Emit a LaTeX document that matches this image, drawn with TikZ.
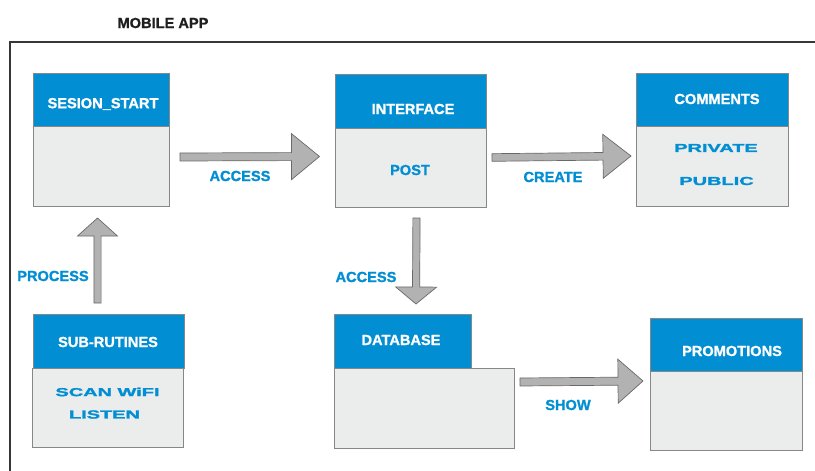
\documentclass[tikz,border=0pt]{standalone}
\usepackage{fontspec}
\usepackage{graphicx}
\setmainfont{Liberation Sans}
\newfontfamily\heavyfont{Liberation Sans Bold}[FakeBold=1.2]
\newfontfamily\wideheavyfont{Liberation Sans Bold}[FakeBold=1.6]
\usetikzlibrary{calc}

\definecolor{hdrblue}{RGB}{2,142,211}
\definecolor{bodygray}{RGB}{235,236,236}
\definecolor{boxedge}{RGB}{135,135,135}
\definecolor{arrfill}{RGB}{178,178,178}
\definecolor{arredge}{RGB}{105,105,105}
\definecolor{frameline}{RGB}{55,55,55}

% block arrow: #1 start, #2 tip, #3 head length, #4 shaft half width, #5 head half width
\newcommand\blockarrow[5]{%
  \path ($(#2)!#3!(#1)$) coordinate (hb);
  \draw[blockarr] ($(#1)!#4!90:(#2)$) -- ($(hb)!#4!90:(#2)$) -- ($(hb)!#5!90:(#2)$)
    -- (#2) -- ($(hb)!#5!-90:(#2)$) -- ($(hb)!#4!-90:(#2)$) -- ($(#1)!#4!-90:(#2)$) -- cycle;
}
\newcommand\widetext[1]{\scalebox{1.72}[1]{\fontsize{11.6}{13}\selectfont\wideheavyfont #1}}

\begin{document}
\begin{tikzpicture}[x=1pt,y=-1pt,
  hdr/.style={rectangle,draw=boxedge,line width=0.8pt,fill=hdrblue,inner sep=0pt},
  bodybox/.style={rectangle,draw=boxedge,line width=0.8pt,fill=bodygray,inner sep=0pt},
  title/.style={text=white,font=\fontsize{14.6}{17}\selectfont\heavyfont,inner sep=0pt},
  item/.style={text=hdrblue,font=\fontsize{14.6}{17}\selectfont\heavyfont,inner sep=0pt},
  wideitem/.style={text=hdrblue,inner sep=0pt},
  lbl/.style={text=hdrblue,font=\fontsize{14.6}{17}\selectfont\heavyfont,inner sep=0pt},
  blockarr/.style={fill=arrfill,draw=arredge,line width=0.7pt,line join=miter}]
\useasboundingbox (0,0) rectangle (815,471);

% outer frame, running off the right and bottom edges
\draw[frameline,line width=2pt] (9.5,475) -- (9.5,41.5) -- (820,41.5);
\node[text=black!88,font=\fontsize{14.6}{17}\selectfont\heavyfont,inner sep=0pt] (app) at (163,23) {MOBILE APP};

% SESION_START
\node[bodybox,minimum width=136pt,minimum height=80pt] (ss-b) at (101,166) {};
\node[hdr,minimum width=136pt,minimum height=53pt] (ss-h) at (101,99.5) {};
\node[title] (ss-t) at (103,104) {SESION\_START};

% INTERFACE
\node[bodybox,minimum width=151pt,minimum height=79pt] (if-b) at (410.5,167.5) {};
\node[hdr,minimum width=151pt,minimum height=54pt] (if-h) at (410.5,101) {};
\node[title] (if-t) at (413,109) {INTERFACE};
\node[item] (post) at (410,170) {POST};

% COMMENTS
\node[bodybox,minimum width=152pt,minimum height=80pt] (cm-b) at (712,166) {};
\node[hdr,minimum width=152pt,minimum height=53pt] (cm-h) at (712,99.5) {};
\node[title] (cm-t) at (717,99) {COMMENTS};
\node[wideitem] (priv) at (716,148) {\widetext{PRIVATE}};
\node[wideitem] (pub) at (716.5,181) {\widetext{PUBLIC}};

% SUB-RUTINES
\node[bodybox,minimum width=151pt,minimum height=79pt] (sr-b) at (107.5,407.5) {};
\node[hdr,minimum width=151pt,minimum height=54pt] (sr-h) at (108.5,341) {};
\node[title] (sr-t) at (108,342) {SUB-RUTINES};
\node[wideitem] (scan) at (107.5,392) {\widetext{SCAN WiFI}};
\node[wideitem] (listen) at (104.5,414.5) {\widetext{LISTEN}};

% DATABASE
\node[bodybox,minimum width=180pt,minimum height=80pt] (db-b) at (424,408) {};
\node[hdr,minimum width=137pt,minimum height=54pt] (db-h) at (402.5,341) {};
\node[title] (db-t) at (401,340) {DATABASE};

% PROMOTIONS
\node[bodybox,minimum width=152pt,minimum height=79pt] (pr-b) at (726,410.5) {};
\node[hdr,minimum width=152pt,minimum height=53pt] (pr-h) at (726,344.5) {};
\node[title] (pr-t) at (732,351) {PROMOTIONS};

% arrow end points
\coordinate (a1s) at (180,157);   \coordinate (a1e) at (319.5,156.5);
\coordinate (a2s) at (492,157.5); \coordinate (a2e) at (631,156);
\coordinate (a3s) at (97.5,303);  \coordinate (a3e) at (97.5,218);
\coordinate (a4s) at (416.5,218); \coordinate (a4e) at (416,304);
\coordinate (a5s) at (520,382);   \coordinate (a5e) at (643,381);

\blockarrow{a1s}{a1e}{28pt}{4pt}{23pt}
\blockarrow{a2s}{a2e}{28pt}{3.8pt}{22pt}
\blockarrow{a3s}{a3e}{18pt}{3.6pt}{20pt}
\blockarrow{a4s}{a4e}{17pt}{3.6pt}{20.5pt}
\blockarrow{a5s}{a5e}{25pt}{4pt}{22pt}

% connector labels
\node[lbl] (l1) at (240,176) {ACCESS};
\node[lbl] (l2) at (553,177) {CREATE};
\node[lbl] (l3) at (53,276) {PROCESS};
\node[lbl] (l4) at (366,277) {ACCESS};
\node[lbl] (l5) at (568,405) {SHOW};
\end{tikzpicture}
\end{document}
